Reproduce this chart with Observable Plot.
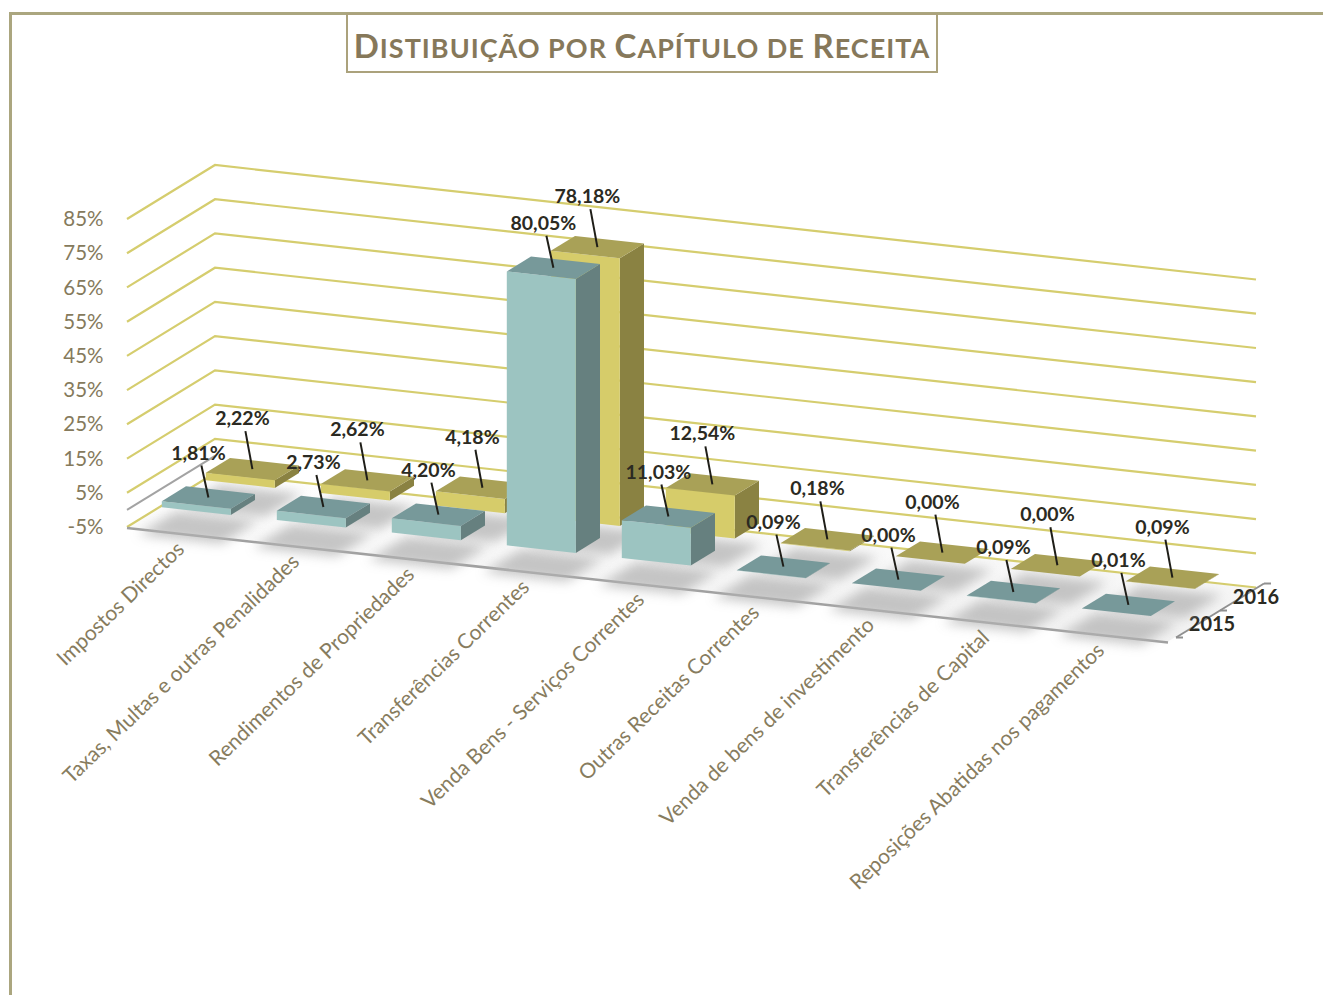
<!DOCTYPE html>
<html>
<head>
<meta charset="utf-8">
<script src="https://cdn.jsdelivr.net/npm/d3@7"></script>
<script src="https://cdn.jsdelivr.net/npm/@observablehq/plot@0.6"></script>
<style>
  body { margin: 0; background: #fff; }
  #wrap { position: relative; width: 1323px; height: 995px; overflow: hidden; font-family: Lato, "Open Sans", sans-serif; }
  #chart { position: absolute; left: 0; top: 0; }
  #frame { position: absolute; left: 9px; top: 12px; width: 1330px; height: 1000px; border-left: 3px solid #aba67f; border-top: 3px solid #aba67f; pointer-events: none; }
  #title { position: absolute; left: 346px; top: 13px; width: 588px; height: 56px; border: 2px solid #aba27c; background: #fff;
           font-family: Lato, sans-serif; font-weight: bold; color: #86785a;
           text-align: center; line-height: 60px; white-space: nowrap; letter-spacing: 1px; }
  #title .cap { font-size: 33px; }
  #title .sm { font-size: 27px; text-transform: uppercase; }
</style>
</head>
<body>
<div id="wrap">
  <div id="chart"></div>
  <div id="frame"></div>
  <div id="title"><span class="cap">D</span><span class="sm">istibuição por </span><span class="cap">C</span><span class="sm">apítulo de </span><span class="cap">R</span><span class="sm">eceita</span></div>
</div>
<script>
const categories = [
  "Impostos Directos",
  "Taxas, Multas e outras Penalidades",
  "Rendimentos de Propriedades",
  "Transferências Correntes",
  "Venda Bens - Serviços Correntes",
  "Outras Receitas Correntes",
  "Venda de bens de investimento",
  "Transferências de Capital",
  "Reposições Abatidas nos pagamentos"
];
const years = ["2015", "2016"];
const values2015 = [1.81, 2.73, 4.20, 80.05, 11.03, 0.09, 0.00, 0.09, 0.01];
const values2016 = [2.22, 2.62, 4.18, 78.18, 12.54, 0.18, 0.00, 0.00, 0.09];
const yTicks = [-5, 5, 15, 25, 35, 45, 55, 65, 75, 85];

const rows = [];
categories.forEach((c, i) => {
  rows.push({cat: c, year: "2015", value: values2015[i], i, s: 0});
  rows.push({cat: c, year: "2016", value: values2016[i], i, s: 1});
});

// oblique projection parameters (pixels per depth unit, shear along x)
const OX = 44, OY = -27, K = 0.11;
const colors = {
  "2015": {front: "#9cc4c1", side: "#66807f", top: "#77999a"},
  "2016": {front: "#d6cc6a", side: "#8a8242", top: "#a9a157"}
};
const fmt = v => v.toFixed(2).replace(".", ",") + "%";

function scene(index, scales, values, dims) {
  const {x, y} = scales;
  const X0 = dims.marginLeft, X1 = dims.width - dims.marginRight;
  const step = (X1 - X0) / categories.length;
  const bw = x.bandwidth ? x.bandwidth() : step;
  const P = (xp, v, d) => [xp + d * OX, y(v) + d * OY + K * (xp - X0)];
  const pts = a => a.map(p => p[0].toFixed(1) + "," + p[1].toFixed(1)).join(" ");
  const g = d3.create("svg:g");
  const defs = g.append("defs");
  defs.append("filter").attr("id", "shadowBlur").attr("x", "-50%").attr("y", "-50%").attr("width", "200%").attr("height", "200%")
    .append("feGaussianBlur").attr("stdDeviation", 6);
  const fg = defs.append("linearGradient").attr("id", "floorGrad").attr("x1", 0).attr("y1", 0).attr("x2", 0).attr("y2", 1);
  fg.append("stop").attr("offset", "0%").attr("stop-color", "#ffffff");
  fg.append("stop").attr("offset", "100%").attr("stop-color", "#f2f2f2");

  // floor
  g.append("polygon").attr("points", pts([P(X0, -5, 0), P(X1, -5, 0), P(X1, -5, 2), P(X0, -5, 2)]))
    .attr("fill", "url(#floorGrad)");

  // walls: gridlines
  for (const v of yTicks) {
    g.append("polyline").attr("points", pts([P(X0, v, 0), P(X0, v, 2), P(X1, v, 2)]))
      .attr("fill", "none").attr("stroke", "#d5cd6e").attr("stroke-width", 2.2);
  }
  // zero line on left wall
  g.append("line")
    .attr("x1", P(X0, 0, 0)[0]).attr("y1", P(X0, 0, 0)[1])
    .attr("x2", P(X0, 0, 2)[0]).attr("y2", P(X0, 0, 2)[1])
    .attr("stroke", "#a3a3a3").attr("stroke-width", 2);

  // floor edge
  g.append("line")
    .attr("x1", P(X0, -5, 0)[0]).attr("y1", P(X0, -5, 0)[1] + 1)
    .attr("x2", P(X1, -5, 0)[0]).attr("y2", P(X1, -5, 0)[1] + 1)
    .attr("stroke", "#a0a0a0").attr("stroke-width", 2.5);

  // depth axis
  const da = d => { const p = P(X1, -5, d); return [p[0] + 8, p[1] - 4]; };
  g.append("line").attr("x1", da(0)[0]).attr("y1", da(0)[1]).attr("x2", da(2)[0]).attr("y2", da(2)[1])
    .attr("stroke", "#909090").attr("stroke-width", 2);
  for (const d of [0, 1, 2]) {
    const p = da(d);
    g.append("line").attr("x1", p[0]).attr("y1", p[1]).attr("x2", p[0] + 7).attr("y2", p[1])
      .attr("stroke", "#909090").attr("stroke-width", 2);
  }
  years.forEach((yr, s) => {
    const p = da(s + 0.5);
    g.append("text").attr("x", p[0] + 14).attr("y", p[1] + 7).text(yr)
      .attr("font-family", "Lato, sans-serif").attr("font-weight", "bold").attr("font-size", 20).attr("fill", "#2b2a22");
  });

  // bar geometry
  const geom = r => {
    const xl = x(r.cat) + bw * 0.2, xr = xl + bw * 0.6;
    const d0 = r.s + 0.2, d1 = r.s + 0.75;
    return {xl, xr, d0, d1};
  };

  // shadows
  for (const r of rows) {
    const {xl, xr, d0, d1} = geom(r);
    g.append("polygon").attr("points", pts([P(xl - 6, -5, d0 - 0.4), P(xr + 8, -5, d0 - 0.4), P(xr + 8, -5, d1 - 0.1), P(xl - 6, -5, d1 - 0.1)]))
      .attr("fill", "#b3b3b3").attr("opacity", 0.75).attr("filter", "url(#shadowBlur)");
  }

  // bars: back row first
  for (const s of [1, 0]) {
    for (const r of rows.filter(r => r.s === s)) {
      const {xl, xr, d0, d1} = geom(r);
      const v = r.value, c = colors[r.year];
      g.append("polygon").attr("points", pts([P(xr, v, d0), P(xr, v, d1), P(xr, 0, d1), P(xr, 0, d0)])).attr("fill", c.side);
      g.append("polygon").attr("points", pts([P(xl, v, d0), P(xr, v, d0), P(xr, 0, d0), P(xl, 0, d0)])).attr("fill", c.front);
      g.append("polygon").attr("points", pts([P(xl, v, d0), P(xr, v, d0), P(xr, v, d1), P(xl, v, d1)])).attr("fill", c.top);
    }
  }

  // data labels with leader lines
  for (const s of [1, 0]) {
    for (const r of rows.filter(r => r.s === s)) {
      const {xl, xr, d0, d1} = geom(r);
      const t = P((xl + xr) / 2, r.value, (d0 + d1) / 2);
      const lift = s === 1 ? 44 : 38;
      const lx = t[0] - 10, ly = t[1] - lift;
      g.append("line").attr("x1", lx + 3).attr("y1", ly + 6).attr("x2", t[0]).attr("y2", t[1])
        .attr("stroke", "#1f1e18").attr("stroke-width", 2);
      g.append("text").attr("x", lx).attr("y", ly).attr("text-anchor", "middle").text(fmt(r.value))
        .attr("font-family", "Lato, sans-serif").attr("font-weight", "bold").attr("font-size", 19.5)
        .attr("fill", "#2b2a22");
    }
  }

  // category labels
  categories.forEach(cat => {
    const p = P(x(cat) + bw / 2, -5, 0);
    g.append("text")
      .attr("transform", `translate(${(p[0] - 2).toFixed(1)},${(p[1] + 17).toFixed(1)}) rotate(-44)`)
      .attr("text-anchor", "end").text(cat)
      .attr("font-family", "Lato, sans-serif").attr("font-size", 21).attr("fill", "#877c5e");
  });
  return g.node();
}

const chart = Plot.plot({
  width: 1323,
  height: 995,
  marginLeft: 127,
  marginRight: 155,
  marginTop: 219,
  marginBottom: 468,
  style: {background: "transparent", fontFamily: "Lato, sans-serif", overflow: "visible"},
  x: {type: "band", domain: categories, padding: 0, axis: null},
  y: {domain: [-5, 85], axis: null},
  marks: [
    Plot.ruleX(rows, {x: "cat", y1: 0, y2: "value", strokeOpacity: 0}),
    scene,
    Plot.axisY({ticks: yTicks, tickSize: 0, tickPadding: 24, tickFormat: d => d + "%", fontSize: 20.5, color: "#857a5c", label: null})
  ]
});
document.getElementById("chart").appendChild(chart);
</script>
</body>
</html>
